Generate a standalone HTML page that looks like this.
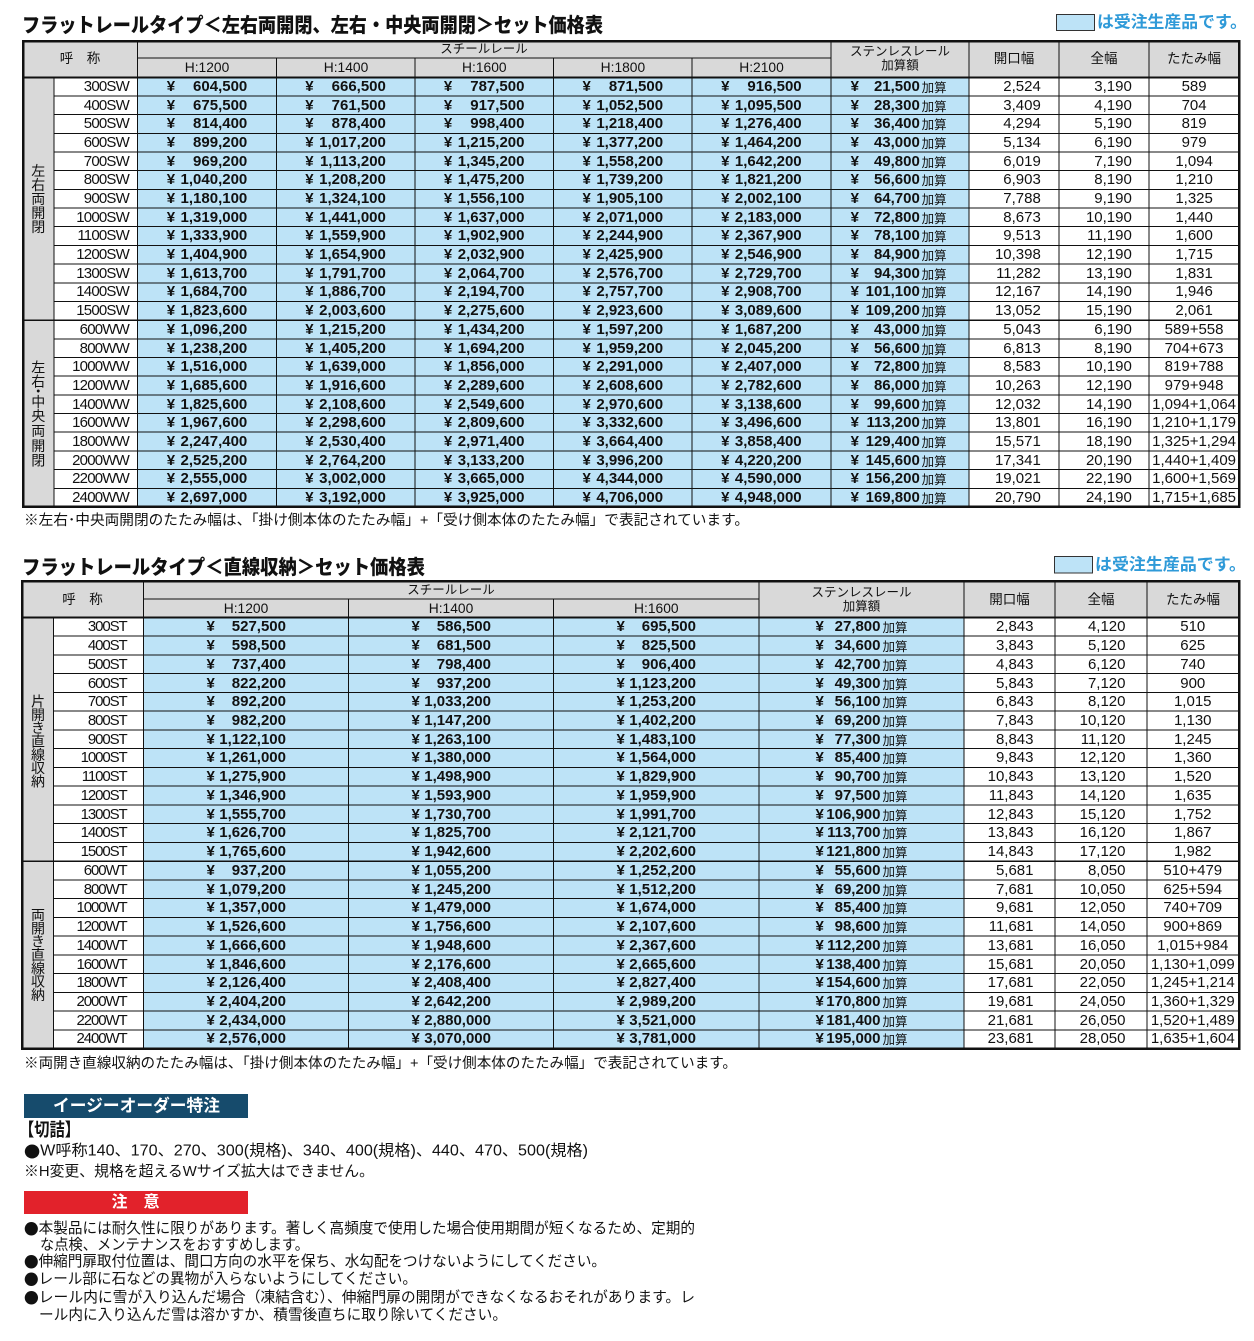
<!DOCTYPE html>
<html><head><meta charset="utf-8">
<style>
html,body{margin:0;padding:0}
body{width:1254px;height:1341px;position:relative;background:#fff;overflow:hidden;font-family:"Liberation Sans","Noto Sans CJK JP",sans-serif;color:#111}
svg{position:absolute;left:0;top:0}
svg text{font-family:"Liberation Sans","Noto Sans CJK JP",sans-serif;dominant-baseline:central;fill:#111}
svg text.m{text-anchor:middle}
svg text.w{fill:#fff}
svg text.bl{fill:#2f9ad8}
svg text.bd{font-weight:bold}
svg tspan.k{font-family:"Noto Sans CJK JP",sans-serif}
.T{position:absolute}
.T div{display:flex;white-space:nowrap;position:relative;top:0.8px}
.T b{display:block;flex-shrink:0;position:relative;box-sizing:border-box;font-weight:bold;text-align:right}
.T i{position:absolute;top:0;font-style:normal}
.T u{position:absolute;top:0;text-decoration:none;font-weight:normal;font-size:12.5px;font-family:"Noto Sans CJK JP",sans-serif}
.A{left:54px;top:77.3px}
.A div{height:18.68px;line-height:18.68px;font-size:15px}
.A b:nth-child(1){width:83.7px;padding-right:8.7px;font-weight:normal;letter-spacing:-0.8px}
.A b:nth-child(n+2){width:138.6px;padding-right:29px}
.A b:nth-child(n+2) i{left:29px}
.A b:nth-child(7){width:138.2px;padding-right:49px}
.A b:nth-child(7) i{left:20px}
.A b:nth-child(7) u{left:91px}
.A b:nth-child(8){width:90px;padding-right:18px;font-weight:normal}
.A b:nth-child(9){width:90px;padding-right:17px;font-weight:normal}
.A b:nth-child(10){width:90.5px;padding-right:0;text-align:center;font-weight:normal}
.B{left:53.5px;top:617.5px}
.B div{height:18.74px;line-height:18.74px;font-size:15px}
.B b:nth-child(1){width:90px;padding-right:16.9px;font-weight:normal;letter-spacing:-1.1px}
.B b:nth-child(n+2){width:205px;padding-right:62.5px}
.B b:nth-child(n+2) i{left:63px}
.B b:nth-child(5){padding-right:83px}
.B b:nth-child(5) i{left:57px}
.B b:nth-child(5) u{left:124px}
.B b:nth-child(6){width:91px;padding-right:21px;font-weight:normal}
.B b:nth-child(7){width:92px;padding-right:21px;font-weight:normal}
.B b:nth-child(8){width:92.5px;padding-right:0;text-align:center;font-weight:normal}
</style></head>
<body>
<svg width="1254" height="1341" viewBox="0 0 1254 1341" xmlns="http://www.w3.org/2000/svg">
<g shape-rendering="crispEdges">
<rect x="22" y="40" width="1218" height="37.3" fill="#d9d9d9"/>
<rect x="22" y="77.3" width="32" height="430" fill="#d9d9d9"/>
<rect x="137.7" y="77.3" width="831.3" height="430" fill="#bde3f7"/>
<rect x="22" y="581" width="1218" height="36.5" fill="#d9d9d9"/>
<rect x="22" y="617.5" width="31.5" height="431" fill="#d9d9d9"/>
<rect x="143.5" y="617.5" width="820.5" height="431" fill="#bde3f7"/>
<path fill="none" stroke="#111" stroke-width="1" d="M54 95.98H1239M54 114.66H1239M54 133.34H1239M54 152.02H1239M54 170.7H1239M54 189.38H1239M54 208.06H1239M54 226.74H1239M54 245.42H1239M54 264.1H1239M54 282.78H1239M54 301.46H1239M54 338.82H1239M54 357.5H1239M54 376.18H1239M54 394.86H1239M54 413.54H1239M54 432.22H1239M54 450.9H1239M54 469.58H1239M54 488.26H1239M137.7 58H830.8M54 77V507M137.7 40V507M276.3 58V507M415 58V507M553.6 58V507M692.2 58V507M830.8 40V507M969 40V507M1059 40V507M1149 40V507"/>
<path fill="none" stroke="#111" stroke-width="1.5" d="M22 320.14H1239"/>
<path fill="none" stroke="#111" stroke-width="2" d="M22 77.3H1240"/>
<rect x="23.25" y="41.25" width="1216" height="465.7" fill="none" stroke="#111" stroke-width="2.5"/>
<path fill="none" stroke="#111" stroke-width="1" d="M53.5 636.24H1239M53.5 654.98H1239M53.5 673.72H1239M53.5 692.46H1239M53.5 711.2H1239M53.5 729.94H1239M53.5 748.68H1239M53.5 767.42H1239M53.5 786.16H1239M53.5 804.9H1239M53.5 823.64H1239M53.5 842.38H1239M53.5 879.86H1239M53.5 898.6H1239M53.5 917.34H1239M53.5 936.08H1239M53.5 954.82H1239M53.5 973.56H1239M53.5 992.3H1239M53.5 1011.04H1239M53.5 1029.78H1239M143.5 599H759M53.5 617.5V1049M143.5 581V1049M348.5 599V1049M553.5 599V1049M759 581V1049M964 581V1049M1055 581V1049M1147 581V1049"/>
<path fill="none" stroke="#111" stroke-width="1.5" d="M22 861.12H1239"/>
<path fill="none" stroke="#111" stroke-width="2" d="M22 617.5H1240"/>
<rect x="22.25" y="581.25" width="1217" height="467.5" fill="none" stroke="#111" stroke-width="2.5"/>
<rect x="1056.5" y="14.5" width="38" height="16" fill="#bde3f7" stroke="#333" stroke-width="1"/>
<rect x="1054.5" y="556.5" width="38" height="16.5" fill="#bde3f7" stroke="#333" stroke-width="1"/>
<rect x="24" y="1094" width="224" height="24" fill="#164b6c"/>
<rect x="24" y="1191" width="224" height="23" fill="#e2222b"/>
</g>

<text x="22" y="26" font-size="20" font-weight="900" textLength="581" lengthAdjust="spacingAndGlyphs">フラットレールタイプ＜左右両開閉、左右・中央両開閉＞セット価格表</text>
<text class="bl bd" x="1097" y="22.5" font-size="16.5" textLength="150" lengthAdjust="spacingAndGlyphs">は受注生産品です。</text>
<text x="22" y="568" font-size="20" font-weight="900" textLength="403" lengthAdjust="spacingAndGlyphs">フラットレールタイプ＜直線収納＞セット価格表</text>
<text class="bl bd" x="1095" y="565" font-size="16.5" textLength="151" lengthAdjust="spacingAndGlyphs">は受注生産品です。</text>

<text class="m" x="80" y="58.5" font-size="13.5">呼　称</text>
<text class="m" x="484" y="49" font-size="12.5">スチールレール</text>
<text class="m" x="207" y="67.5" font-size="13.8">H:1200</text>
<text class="m" x="346" y="67.5" font-size="13.8">H:1400</text>
<text class="m" x="484.3" y="67.5" font-size="13.8">H:1600</text>
<text class="m" x="622.9" y="67.5" font-size="13.8">H:1800</text>
<text class="m" x="761.5" y="67.5" font-size="13.8">H:2100</text>
<text class="m" x="900" y="51.5" font-size="12.5">ステンレスレール</text>
<text class="m" x="900" y="65.5" font-size="12.5">加算額</text>
<text class="m" x="1014" y="58.5" font-size="13.5">開口幅</text>
<text class="m" x="1104" y="58.5" font-size="13.5">全幅</text>
<text class="m" x="1194" y="58.5" font-size="13.5">たたみ幅</text>

<g font-size="14">
<text class="m" x="38.3" y="171">左</text>
<text class="m" x="38.3" y="185">右</text>
<text class="m" x="38.3" y="199">両</text>
<text class="m" x="38.3" y="213">開</text>
<text class="m" x="38.3" y="227">閉</text>
<text class="m" x="38.3" y="367.5">左</text>
<text class="m" x="38.3" y="381.5">右</text>
<text class="m" x="38.3" y="391.5">・</text>
<text class="m" x="38.3" y="402">中</text>
<text class="m" x="38.3" y="416">央</text>
<text class="m" x="38.3" y="431">両</text>
<text class="m" x="38.3" y="446">開</text>
<text class="m" x="38.3" y="460.5">閉</text>
</g>

<text class="m" x="82.5" y="599.5" font-size="13.5">呼　称</text>
<text class="m" x="451" y="590" font-size="12.5">スチールレール</text>
<text class="m" x="246" y="608.5" font-size="13.8">H:1200</text>
<text class="m" x="451" y="608.5" font-size="13.8">H:1400</text>
<text class="m" x="656.3" y="608.5" font-size="13.8">H:1600</text>
<text class="m" x="861.5" y="592.5" font-size="12.5">ステンレスレール</text>
<text class="m" x="861.5" y="606.5" font-size="12.5">加算額</text>
<text class="m" x="1009.5" y="599.5" font-size="13.5">開口幅</text>
<text class="m" x="1101" y="599.5" font-size="13.5">全幅</text>
<text class="m" x="1193" y="599.5" font-size="13.5">たたみ幅</text>

<g font-size="14">
<text class="m" x="38" y="701.6">片</text>
<text class="m" x="38" y="714.9">開</text>
<text class="m" x="38" y="728.2">き</text>
<text class="m" x="38" y="741.5">直</text>
<text class="m" x="38" y="754.8">線</text>
<text class="m" x="38" y="768.1">収</text>
<text class="m" x="38" y="781.4">納</text>
<text class="m" x="38" y="915.1">両</text>
<text class="m" x="38" y="928.4">開</text>
<text class="m" x="38" y="941.7">き</text>
<text class="m" x="38" y="955">直</text>
<text class="m" x="38" y="968.3">線</text>
<text class="m" x="38" y="981.6">収</text>
<text class="m" x="38" y="994.9">納</text>
</g>

<text x="24" y="521" font-size="14.5" textLength="725" lengthAdjust="spacingAndGlyphs">※左右･中央両開閉のたたみ幅は、「掛け側本体のたたみ幅」+「受け側本体のたたみ幅」で表記されています。</text>
<text x="24" y="1064" font-size="14.5" textLength="713" lengthAdjust="spacingAndGlyphs">※両開き直線収納のたたみ幅は、「掛け側本体のたたみ幅」+「受け側本体のたたみ幅」で表記されています。</text>
<text class="m w bd" x="136.5" y="1106" font-size="17" textLength="167" lengthAdjust="spacingAndGlyphs">イージーオーダー特注</text>
<text class="bd" x="19" y="1130" font-size="18" textLength="61" lengthAdjust="spacingAndGlyphs">【切詰】</text>
<text x="24" y="1151" font-size="15.5" textLength="564" lengthAdjust="spacingAndGlyphs"><tspan class="k">●</tspan>W呼称140、170、270、300(規格)、340、400(規格)、440、470、500(規格)</text>
<text x="24" y="1171.5" font-size="15" textLength="350" lengthAdjust="spacingAndGlyphs">※H変更、規格を超えるWサイズ拡大はできません。</text>
<text class="m w bd" x="135.5" y="1202.5" font-size="16">注　意</text>
<text x="24" y="1228.3" font-size="15" textLength="671" lengthAdjust="spacingAndGlyphs"><tspan class="k">●</tspan>本製品には耐久性に限りがあります。著しく高頻度で使用した場合使用期間が短くなるため、定期的</text>
<text x="40" y="1245" font-size="15" textLength="269" lengthAdjust="spacingAndGlyphs">な点検、メンテナンスをおすすめします。</text>
<text x="24" y="1261.7" font-size="15" textLength="582" lengthAdjust="spacingAndGlyphs"><tspan class="k">●</tspan>伸縮門扉取付位置は、間口方向の水平を保ち、水勾配をつけないようにしてください。</text>
<text x="24" y="1279" font-size="15" textLength="393" lengthAdjust="spacingAndGlyphs"><tspan class="k">●</tspan>レール部に石などの異物が入らないようにしてください。</text>
<text x="24" y="1297.3" font-size="15" textLength="671" lengthAdjust="spacingAndGlyphs"><tspan class="k">●</tspan>レール内に雪が入り込んだ場合（凍結含む）、伸縮門扉の開閉ができなくなるおそれがあります。レ</text>
<text x="39" y="1315" font-size="15" textLength="468" lengthAdjust="spacingAndGlyphs">ール内に入り込んだ雪は溶かすか、積雪後直ちに取り除いてください。</text>
</svg>

<div class="T A">
<div><b>300SW</b><b><i>¥</i>604,500</b><b><i>¥</i>666,500</b><b><i>¥</i>787,500</b><b><i>¥</i>871,500</b><b><i>¥</i>916,500</b><b><i>¥</i>21,500<u>加算</u></b><b>2,524</b><b>3,190</b><b>589</b></div>
<div><b>400SW</b><b><i>¥</i>675,500</b><b><i>¥</i>761,500</b><b><i>¥</i>917,500</b><b><i>¥</i>1,052,500</b><b><i>¥</i>1,095,500</b><b><i>¥</i>28,300<u>加算</u></b><b>3,409</b><b>4,190</b><b>704</b></div>
<div><b>500SW</b><b><i>¥</i>814,400</b><b><i>¥</i>878,400</b><b><i>¥</i>998,400</b><b><i>¥</i>1,218,400</b><b><i>¥</i>1,276,400</b><b><i>¥</i>36,400<u>加算</u></b><b>4,294</b><b>5,190</b><b>819</b></div>
<div><b>600SW</b><b><i>¥</i>899,200</b><b><i>¥</i>1,017,200</b><b><i>¥</i>1,215,200</b><b><i>¥</i>1,377,200</b><b><i>¥</i>1,464,200</b><b><i>¥</i>43,000<u>加算</u></b><b>5,134</b><b>6,190</b><b>979</b></div>
<div><b>700SW</b><b><i>¥</i>969,200</b><b><i>¥</i>1,113,200</b><b><i>¥</i>1,345,200</b><b><i>¥</i>1,558,200</b><b><i>¥</i>1,642,200</b><b><i>¥</i>49,800<u>加算</u></b><b>6,019</b><b>7,190</b><b>1,094</b></div>
<div><b>800SW</b><b><i>¥</i>1,040,200</b><b><i>¥</i>1,208,200</b><b><i>¥</i>1,475,200</b><b><i>¥</i>1,739,200</b><b><i>¥</i>1,821,200</b><b><i>¥</i>56,600<u>加算</u></b><b>6,903</b><b>8,190</b><b>1,210</b></div>
<div><b>900SW</b><b><i>¥</i>1,180,100</b><b><i>¥</i>1,324,100</b><b><i>¥</i>1,556,100</b><b><i>¥</i>1,905,100</b><b><i>¥</i>2,002,100</b><b><i>¥</i>64,700<u>加算</u></b><b>7,788</b><b>9,190</b><b>1,325</b></div>
<div><b>1000SW</b><b><i>¥</i>1,319,000</b><b><i>¥</i>1,441,000</b><b><i>¥</i>1,637,000</b><b><i>¥</i>2,071,000</b><b><i>¥</i>2,183,000</b><b><i>¥</i>72,800<u>加算</u></b><b>8,673</b><b>10,190</b><b>1,440</b></div>
<div><b>1100SW</b><b><i>¥</i>1,333,900</b><b><i>¥</i>1,559,900</b><b><i>¥</i>1,902,900</b><b><i>¥</i>2,244,900</b><b><i>¥</i>2,367,900</b><b><i>¥</i>78,100<u>加算</u></b><b>9,513</b><b>11,190</b><b>1,600</b></div>
<div><b>1200SW</b><b><i>¥</i>1,404,900</b><b><i>¥</i>1,654,900</b><b><i>¥</i>2,032,900</b><b><i>¥</i>2,425,900</b><b><i>¥</i>2,546,900</b><b><i>¥</i>84,900<u>加算</u></b><b>10,398</b><b>12,190</b><b>1,715</b></div>
<div><b>1300SW</b><b><i>¥</i>1,613,700</b><b><i>¥</i>1,791,700</b><b><i>¥</i>2,064,700</b><b><i>¥</i>2,576,700</b><b><i>¥</i>2,729,700</b><b><i>¥</i>94,300<u>加算</u></b><b>11,282</b><b>13,190</b><b>1,831</b></div>
<div><b>1400SW</b><b><i>¥</i>1,684,700</b><b><i>¥</i>1,886,700</b><b><i>¥</i>2,194,700</b><b><i>¥</i>2,757,700</b><b><i>¥</i>2,908,700</b><b><i>¥</i>101,100<u>加算</u></b><b>12,167</b><b>14,190</b><b>1,946</b></div>
<div><b>1500SW</b><b><i>¥</i>1,823,600</b><b><i>¥</i>2,003,600</b><b><i>¥</i>2,275,600</b><b><i>¥</i>2,923,600</b><b><i>¥</i>3,089,600</b><b><i>¥</i>109,200<u>加算</u></b><b>13,052</b><b>15,190</b><b>2,061</b></div>
<div><b>600WW</b><b><i>¥</i>1,096,200</b><b><i>¥</i>1,215,200</b><b><i>¥</i>1,434,200</b><b><i>¥</i>1,597,200</b><b><i>¥</i>1,687,200</b><b><i>¥</i>43,000<u>加算</u></b><b>5,043</b><b>6,190</b><b>589+558</b></div>
<div><b>800WW</b><b><i>¥</i>1,238,200</b><b><i>¥</i>1,405,200</b><b><i>¥</i>1,694,200</b><b><i>¥</i>1,959,200</b><b><i>¥</i>2,045,200</b><b><i>¥</i>56,600<u>加算</u></b><b>6,813</b><b>8,190</b><b>704+673</b></div>
<div><b>1000WW</b><b><i>¥</i>1,516,000</b><b><i>¥</i>1,639,000</b><b><i>¥</i>1,856,000</b><b><i>¥</i>2,291,000</b><b><i>¥</i>2,407,000</b><b><i>¥</i>72,800<u>加算</u></b><b>8,583</b><b>10,190</b><b>819+788</b></div>
<div><b>1200WW</b><b><i>¥</i>1,685,600</b><b><i>¥</i>1,916,600</b><b><i>¥</i>2,289,600</b><b><i>¥</i>2,608,600</b><b><i>¥</i>2,782,600</b><b><i>¥</i>86,000<u>加算</u></b><b>10,263</b><b>12,190</b><b>979+948</b></div>
<div><b>1400WW</b><b><i>¥</i>1,825,600</b><b><i>¥</i>2,108,600</b><b><i>¥</i>2,549,600</b><b><i>¥</i>2,970,600</b><b><i>¥</i>3,138,600</b><b><i>¥</i>99,600<u>加算</u></b><b>12,032</b><b>14,190</b><b>1,094+1,064</b></div>
<div><b>1600WW</b><b><i>¥</i>1,967,600</b><b><i>¥</i>2,298,600</b><b><i>¥</i>2,809,600</b><b><i>¥</i>3,332,600</b><b><i>¥</i>3,496,600</b><b><i>¥</i>113,200<u>加算</u></b><b>13,801</b><b>16,190</b><b>1,210+1,179</b></div>
<div><b>1800WW</b><b><i>¥</i>2,247,400</b><b><i>¥</i>2,530,400</b><b><i>¥</i>2,971,400</b><b><i>¥</i>3,664,400</b><b><i>¥</i>3,858,400</b><b><i>¥</i>129,400<u>加算</u></b><b>15,571</b><b>18,190</b><b>1,325+1,294</b></div>
<div><b>2000WW</b><b><i>¥</i>2,525,200</b><b><i>¥</i>2,764,200</b><b><i>¥</i>3,133,200</b><b><i>¥</i>3,996,200</b><b><i>¥</i>4,220,200</b><b><i>¥</i>145,600<u>加算</u></b><b>17,341</b><b>20,190</b><b>1,440+1,409</b></div>
<div><b>2200WW</b><b><i>¥</i>2,555,000</b><b><i>¥</i>3,002,000</b><b><i>¥</i>3,665,000</b><b><i>¥</i>4,344,000</b><b><i>¥</i>4,590,000</b><b><i>¥</i>156,200<u>加算</u></b><b>19,021</b><b>22,190</b><b>1,600+1,569</b></div>
<div><b>2400WW</b><b><i>¥</i>2,697,000</b><b><i>¥</i>3,192,000</b><b><i>¥</i>3,925,000</b><b><i>¥</i>4,706,000</b><b><i>¥</i>4,948,000</b><b><i>¥</i>169,800<u>加算</u></b><b>20,790</b><b>24,190</b><b>1,715+1,685</b></div>
</div>

<div class="T B">
<div><b>300ST</b><b><i>¥</i>527,500</b><b><i>¥</i>586,500</b><b><i>¥</i>695,500</b><b><i>¥</i>27,800<u>加算</u></b><b>2,843</b><b>4,120</b><b>510</b></div>
<div><b>400ST</b><b><i>¥</i>598,500</b><b><i>¥</i>681,500</b><b><i>¥</i>825,500</b><b><i>¥</i>34,600<u>加算</u></b><b>3,843</b><b>5,120</b><b>625</b></div>
<div><b>500ST</b><b><i>¥</i>737,400</b><b><i>¥</i>798,400</b><b><i>¥</i>906,400</b><b><i>¥</i>42,700<u>加算</u></b><b>4,843</b><b>6,120</b><b>740</b></div>
<div><b>600ST</b><b><i>¥</i>822,200</b><b><i>¥</i>937,200</b><b><i>¥</i>1,123,200</b><b><i>¥</i>49,300<u>加算</u></b><b>5,843</b><b>7,120</b><b>900</b></div>
<div><b>700ST</b><b><i>¥</i>892,200</b><b><i>¥</i>1,033,200</b><b><i>¥</i>1,253,200</b><b><i>¥</i>56,100<u>加算</u></b><b>6,843</b><b>8,120</b><b>1,015</b></div>
<div><b>800ST</b><b><i>¥</i>982,200</b><b><i>¥</i>1,147,200</b><b><i>¥</i>1,402,200</b><b><i>¥</i>69,200<u>加算</u></b><b>7,843</b><b>10,120</b><b>1,130</b></div>
<div><b>900ST</b><b><i>¥</i>1,122,100</b><b><i>¥</i>1,263,100</b><b><i>¥</i>1,483,100</b><b><i>¥</i>77,300<u>加算</u></b><b>8,843</b><b>11,120</b><b>1,245</b></div>
<div><b>1000ST</b><b><i>¥</i>1,261,000</b><b><i>¥</i>1,380,000</b><b><i>¥</i>1,564,000</b><b><i>¥</i>85,400<u>加算</u></b><b>9,843</b><b>12,120</b><b>1,360</b></div>
<div><b>1100ST</b><b><i>¥</i>1,275,900</b><b><i>¥</i>1,498,900</b><b><i>¥</i>1,829,900</b><b><i>¥</i>90,700<u>加算</u></b><b>10,843</b><b>13,120</b><b>1,520</b></div>
<div><b>1200ST</b><b><i>¥</i>1,346,900</b><b><i>¥</i>1,593,900</b><b><i>¥</i>1,959,900</b><b><i>¥</i>97,500<u>加算</u></b><b>11,843</b><b>14,120</b><b>1,635</b></div>
<div><b>1300ST</b><b><i>¥</i>1,555,700</b><b><i>¥</i>1,730,700</b><b><i>¥</i>1,991,700</b><b><i>¥</i>106,900<u>加算</u></b><b>12,843</b><b>15,120</b><b>1,752</b></div>
<div><b>1400ST</b><b><i>¥</i>1,626,700</b><b><i>¥</i>1,825,700</b><b><i>¥</i>2,121,700</b><b><i>¥</i>113,700<u>加算</u></b><b>13,843</b><b>16,120</b><b>1,867</b></div>
<div><b>1500ST</b><b><i>¥</i>1,765,600</b><b><i>¥</i>1,942,600</b><b><i>¥</i>2,202,600</b><b><i>¥</i>121,800<u>加算</u></b><b>14,843</b><b>17,120</b><b>1,982</b></div>
<div><b>600WT</b><b><i>¥</i>937,200</b><b><i>¥</i>1,055,200</b><b><i>¥</i>1,252,200</b><b><i>¥</i>55,600<u>加算</u></b><b>5,681</b><b>8,050</b><b>510+479</b></div>
<div><b>800WT</b><b><i>¥</i>1,079,200</b><b><i>¥</i>1,245,200</b><b><i>¥</i>1,512,200</b><b><i>¥</i>69,200<u>加算</u></b><b>7,681</b><b>10,050</b><b>625+594</b></div>
<div><b>1000WT</b><b><i>¥</i>1,357,000</b><b><i>¥</i>1,479,000</b><b><i>¥</i>1,674,000</b><b><i>¥</i>85,400<u>加算</u></b><b>9,681</b><b>12,050</b><b>740+709</b></div>
<div><b>1200WT</b><b><i>¥</i>1,526,600</b><b><i>¥</i>1,756,600</b><b><i>¥</i>2,107,600</b><b><i>¥</i>98,600<u>加算</u></b><b>11,681</b><b>14,050</b><b>900+869</b></div>
<div><b>1400WT</b><b><i>¥</i>1,666,600</b><b><i>¥</i>1,948,600</b><b><i>¥</i>2,367,600</b><b><i>¥</i>112,200<u>加算</u></b><b>13,681</b><b>16,050</b><b>1,015+984</b></div>
<div><b>1600WT</b><b><i>¥</i>1,846,600</b><b><i>¥</i>2,176,600</b><b><i>¥</i>2,665,600</b><b><i>¥</i>138,400<u>加算</u></b><b>15,681</b><b>20,050</b><b>1,130+1,099</b></div>
<div><b>1800WT</b><b><i>¥</i>2,126,400</b><b><i>¥</i>2,408,400</b><b><i>¥</i>2,827,400</b><b><i>¥</i>154,600<u>加算</u></b><b>17,681</b><b>22,050</b><b>1,245+1,214</b></div>
<div><b>2000WT</b><b><i>¥</i>2,404,200</b><b><i>¥</i>2,642,200</b><b><i>¥</i>2,989,200</b><b><i>¥</i>170,800<u>加算</u></b><b>19,681</b><b>24,050</b><b>1,360+1,329</b></div>
<div><b>2200WT</b><b><i>¥</i>2,434,000</b><b><i>¥</i>2,880,000</b><b><i>¥</i>3,521,000</b><b><i>¥</i>181,400<u>加算</u></b><b>21,681</b><b>26,050</b><b>1,520+1,489</b></div>
<div><b>2400WT</b><b><i>¥</i>2,576,000</b><b><i>¥</i>3,070,000</b><b><i>¥</i>3,781,000</b><b><i>¥</i>195,000<u>加算</u></b><b>23,681</b><b>28,050</b><b>1,635+1,604</b></div>
</div>
</body></html>
